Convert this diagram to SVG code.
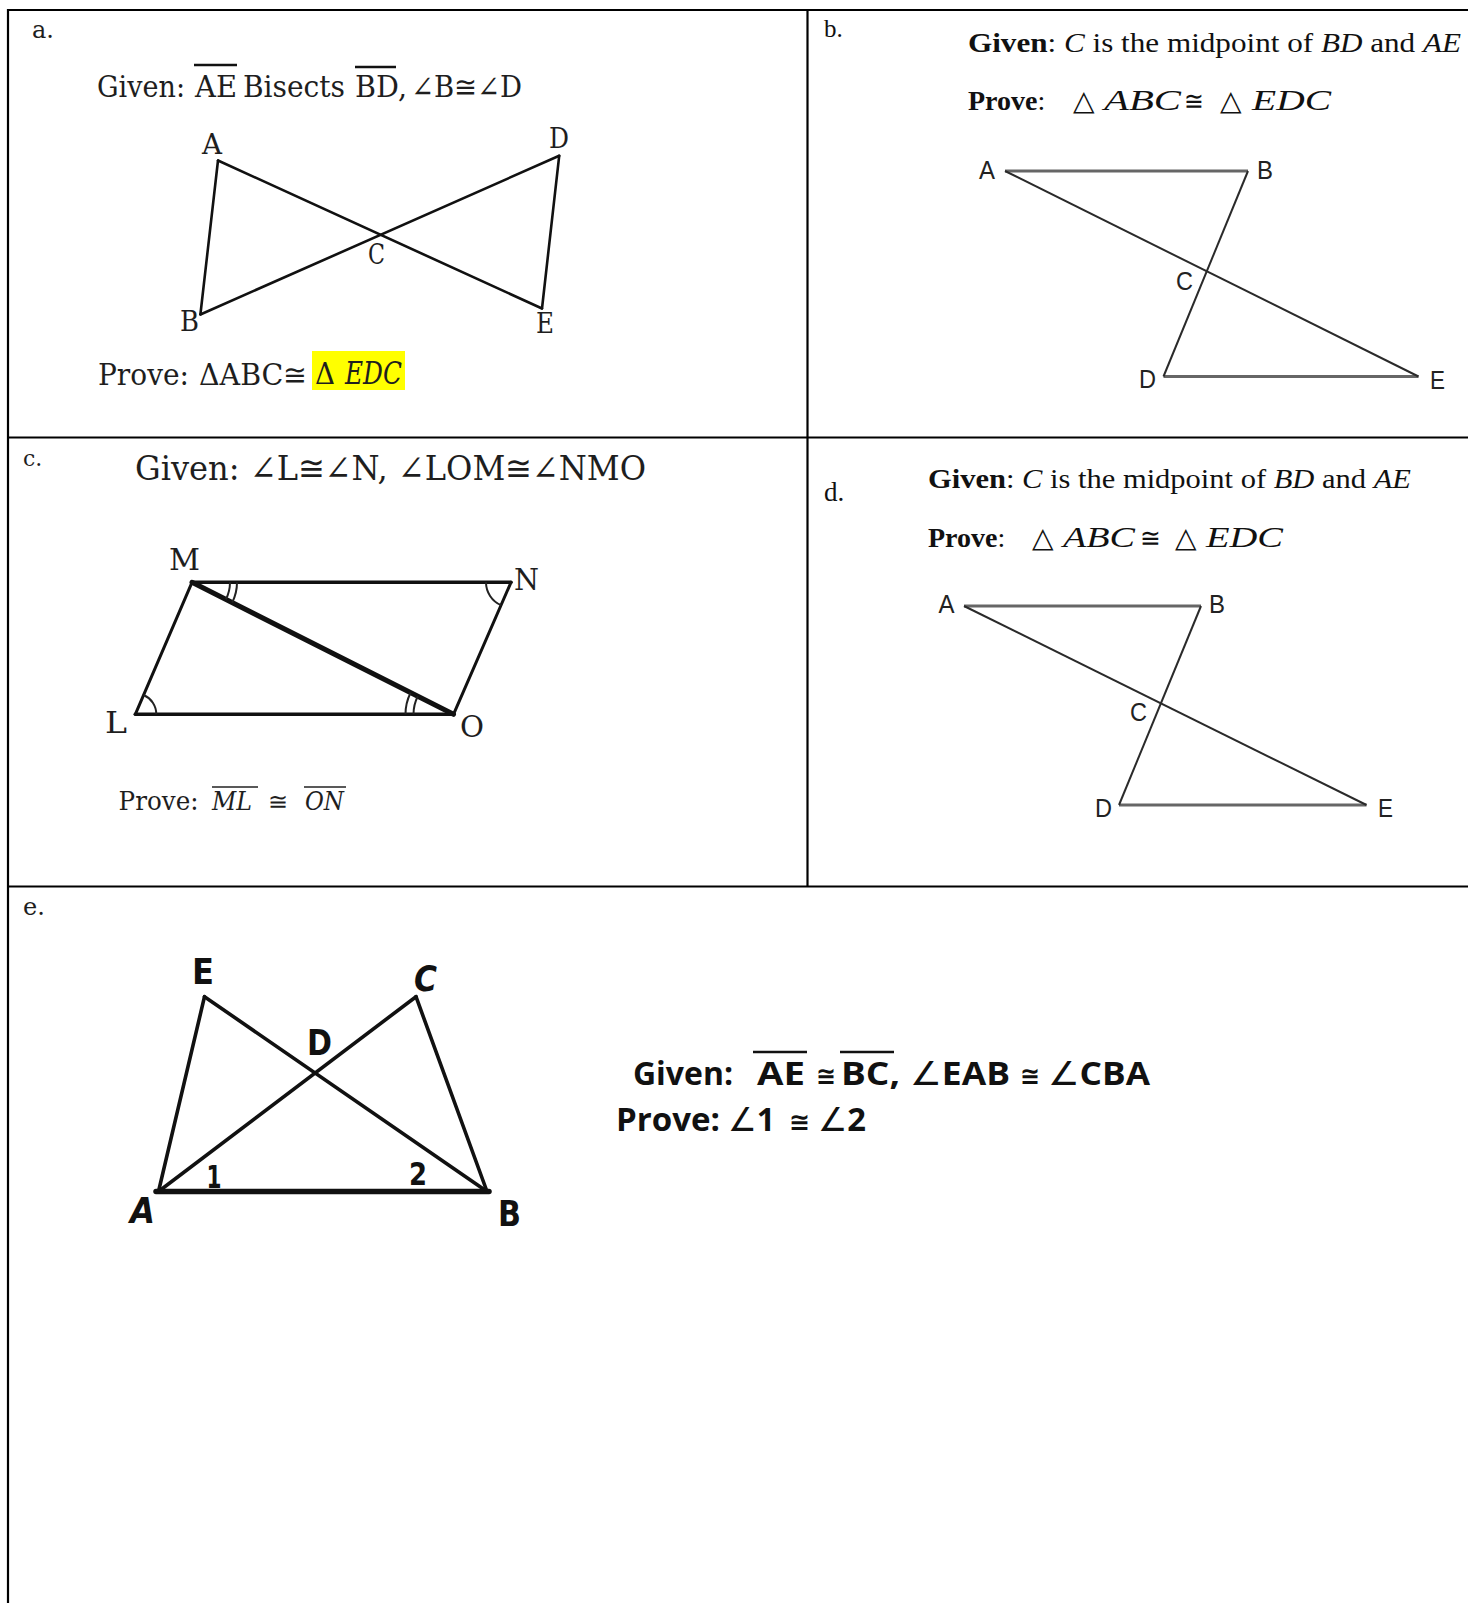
<svg xmlns="http://www.w3.org/2000/svg" width="1468" height="1603" viewBox="0 0 1468 1603">
<style>
.grid{stroke:#000;stroke-width:2.2;fill:none}
.ln{stroke:#111;stroke-linecap:round;fill:none}
.cam{font-family:"DejaVu Serif","Liberation Serif",serif;fill:#1e1e1e}
.tim{font-family:"Liberation Serif","Times New Roman",serif;fill:#111}
.ar{font-family:"Liberation Sans",Arial,sans-serif;fill:#222}
.tah{font-family:"Open Sans","DejaVu Sans",sans-serif;font-weight:700;fill:#111}
.hand{font-family:"DejaVu Sans",sans-serif;font-weight:700;fill:#111}
.ov{stroke:#111;stroke-width:2.6}
.arc{stroke:#222;stroke-width:2;fill:none}
</style>
<rect x="0" y="0" width="1468" height="1603" fill="#fff"/>
<g id="table" class="grid">
<line x1="7" y1="10" x2="1468" y2="10"/>
<line x1="8" y1="9" x2="8" y2="1603"/>
<line x1="807.5" y1="9" x2="807.5" y2="887"/>
<line x1="7" y1="437.5" x2="1468" y2="437.5"/>
<line x1="7" y1="886.5" x2="1468" y2="886.5"/>
</g>

<g id="cell-a">
<text class="cam" x="32" y="38" font-size="24">a.</text>
<text class="cam" x="97" y="97" font-size="29" textLength="88" lengthAdjust="spacingAndGlyphs">Given:</text>
<text class="cam" x="195" y="97" font-size="29" textLength="42" lengthAdjust="spacingAndGlyphs">AE</text>
<text class="cam" x="243" y="97" font-size="29" textLength="102" lengthAdjust="spacingAndGlyphs">Bisects</text>
<text class="cam" x="355" y="97" font-size="29" textLength="52" lengthAdjust="spacingAndGlyphs">BD,</text>
<text class="cam" x="411" y="97" font-size="29" textLength="111" lengthAdjust="spacingAndGlyphs">∠B≅∠D</text>
<line class="ov" x1="194" y1="65" x2="237" y2="65"/>
<line class="ov" x1="355" y1="67" x2="396" y2="67"/>
<g id="fig-a" class="ln" stroke-width="2.6">
<line x1="218" y1="160.5" x2="200.4" y2="314.5"/>
<line x1="218" y1="160.5" x2="542" y2="308.5"/>
<line x1="200.4" y1="314.5" x2="559.2" y2="155.8"/>
<line x1="559.2" y1="155.8" x2="542" y2="308.5"/>
</g>
<text class="cam" x="202" y="154" font-size="27" textLength="20" lengthAdjust="spacingAndGlyphs">A</text>
<text class="cam" x="549" y="148" font-size="27" textLength="20" lengthAdjust="spacingAndGlyphs">D</text>
<text class="cam" x="368" y="264" font-size="27" textLength="17" lengthAdjust="spacingAndGlyphs">C</text>
<text class="cam" x="180" y="331" font-size="27" textLength="19" lengthAdjust="spacingAndGlyphs">B</text>
<text class="cam" x="536" y="333" font-size="27" textLength="18" lengthAdjust="spacingAndGlyphs">E</text>
<text class="cam" x="98" y="385" font-size="29" textLength="91" lengthAdjust="spacingAndGlyphs">Prove:</text>
<text class="cam" x="199" y="385" font-size="29" textLength="108" lengthAdjust="spacingAndGlyphs">ΔABC≅</text>
<rect x="312" y="351" width="93" height="39" fill="#ffff00"/>
<text class="cam" x="315" y="384" font-size="29" fill="#000" textLength="20" lengthAdjust="spacingAndGlyphs">Δ</text>
<text class="cam" x="345" y="384" font-size="31" font-style="italic" fill="#000" textLength="57" lengthAdjust="spacingAndGlyphs">EDC</text>
</g>

<g id="cell-b">
<text class="tim" x="824" y="37" font-size="25">b.</text>
<text class="tim" x="968" y="52" font-size="28" textLength="493" lengthAdjust="spacingAndGlyphs"><tspan font-weight="700">Given</tspan>:  <tspan font-style="italic">C</tspan> is the midpoint of <tspan font-style="italic">BD</tspan> and <tspan font-style="italic">AE</tspan></text>
<text class="tim" x="968" y="110" font-size="28"><tspan font-weight="700">Prove</tspan>:</text>
<text class="tim" x="1073" y="110" font-size="28">△</text>
<text class="tim" x="1104" y="110" font-size="30" font-style="italic" textLength="77" lengthAdjust="spacingAndGlyphs">ABC</text>
<text class="tim" x="1184" y="110" font-size="26" textLength="20" lengthAdjust="spacingAndGlyphs">≅</text>
<text class="tim" x="1220" y="110" font-size="28">△</text>
<text class="tim" x="1252" y="110" font-size="30" font-style="italic" textLength="79" lengthAdjust="spacingAndGlyphs">EDC</text>
<g id="fig-b">
<line x1="1005" y1="171" x2="1248" y2="171" stroke="#666" stroke-width="3"/>
<line x1="1163.5" y1="376.5" x2="1418.5" y2="376.5" stroke="#666" stroke-width="3"/>
<line x1="1248" y1="171" x2="1163.5" y2="376.5" stroke="#2a2a2a" stroke-width="2"/>
<line x1="1005" y1="171" x2="1418.5" y2="376.5" stroke="#2a2a2a" stroke-width="2"/>
</g>
<text class="ar" x="979" y="179" font-size="25" textLength="16" lengthAdjust="spacingAndGlyphs">A</text>
<text class="ar" x="1257" y="179" font-size="25" textLength="16" lengthAdjust="spacingAndGlyphs">B</text>
<text class="ar" x="1176" y="290" font-size="25" textLength="17" lengthAdjust="spacingAndGlyphs">C</text>
<text class="ar" x="1139" y="388" font-size="25" textLength="17" lengthAdjust="spacingAndGlyphs">D</text>
<text class="ar" x="1430" y="389" font-size="25" textLength="15" lengthAdjust="spacingAndGlyphs">E</text>
</g>

<g id="cell-c">
<text class="cam" x="23" y="466" font-size="22">c.</text>
<text class="cam" x="135" y="480" font-size="34" textLength="511" lengthAdjust="spacingAndGlyphs">Given: ∠L≅∠N, ∠LOM≅∠NMO</text>
<g id="fig-c">
<line class="ln" x1="192" y1="582.3" x2="511" y2="582.3" stroke-width="3.6" stroke="#222"/>
<line class="ln" x1="135.3" y1="714.3" x2="453.5" y2="714.3" stroke-width="3.6" stroke="#222"/>
<line class="ln" x1="192" y1="582.3" x2="135.3" y2="714.3" stroke-width="3"/>
<line class="ln" x1="511" y1="582.3" x2="453.5" y2="714.3" stroke-width="3"/>
<line class="ln" x1="192" y1="582.3" x2="453.5" y2="714.3" stroke-width="5"/>
<path class="arc" d="M230,582.3 A38,38 0 0 1 225.9,599.4"/>
<path class="arc" d="M237,582.3 A45,45 0 0 1 232.2,602.6"/>
<path class="arc" d="M486,582.3 A25,25 0 0 0 501,605.2"/>
<path class="arc" d="M156.3,714.3 A21,21 0 0 0 143.6,695"/>
<path class="arc" d="M413.5,714.3 A40,40 0 0 1 417.8,696.3"/>
<path class="arc" d="M405.5,714.3 A48,48 0 0 1 410.6,692.7"/>
</g>
<text class="cam" x="169" y="570" font-size="29" textLength="31" lengthAdjust="spacingAndGlyphs">M</text>
<text class="cam" x="514" y="590" font-size="29" textLength="25" lengthAdjust="spacingAndGlyphs">N</text>
<text class="cam" x="105" y="733" font-size="29" textLength="22" lengthAdjust="spacingAndGlyphs">L</text>
<text class="cam" x="460" y="737" font-size="29" textLength="24" lengthAdjust="spacingAndGlyphs">O</text>
<text class="cam" x="118.6" y="810" font-size="26" fill="#111" textLength="80" lengthAdjust="spacingAndGlyphs">Prove:</text>
<text class="cam" x="212" y="810" font-size="26" font-style="italic" fill="#111" textLength="40" lengthAdjust="spacingAndGlyphs">ML</text>
<text class="cam" x="268" y="810" font-size="24" fill="#111" textLength="20" lengthAdjust="spacingAndGlyphs">≅</text>
<text class="cam" x="305" y="810" font-size="26" font-style="italic" fill="#111" textLength="39" lengthAdjust="spacingAndGlyphs">ON</text>
<line x1="212" y1="787" x2="258" y2="787" stroke="#222" stroke-width="1.6"/>
<line x1="304" y1="787" x2="346" y2="787" stroke="#222" stroke-width="1.6"/>
</g>

<g id="cell-d">
<text class="tim" x="824" y="501" font-size="27">d.</text>
<text class="tim" x="928" y="488" font-size="28" textLength="483" lengthAdjust="spacingAndGlyphs"><tspan font-weight="700">Given</tspan>:  <tspan font-style="italic">C</tspan> is the midpoint of <tspan font-style="italic">BD</tspan> and <tspan font-style="italic">AE</tspan></text>
<text class="tim" x="928" y="547" font-size="28"><tspan font-weight="700">Prove</tspan>:</text>
<text class="tim" x="1032" y="547" font-size="28">△</text>
<text class="tim" x="1063" y="547" font-size="30" font-style="italic" textLength="72" lengthAdjust="spacingAndGlyphs">ABC</text>
<text class="tim" x="1140" y="547" font-size="26" textLength="21" lengthAdjust="spacingAndGlyphs">≅</text>
<text class="tim" x="1175" y="547" font-size="28">△</text>
<text class="tim" x="1206" y="547" font-size="30" font-style="italic" textLength="77" lengthAdjust="spacingAndGlyphs">EDC</text>
<g id="fig-d">
<line x1="964" y1="606" x2="1201" y2="606" stroke="#666" stroke-width="3"/>
<line x1="1119" y1="805" x2="1366.5" y2="805" stroke="#666" stroke-width="3"/>
<line x1="1201" y1="606" x2="1119" y2="805" stroke="#2a2a2a" stroke-width="2"/>
<line x1="964" y1="606" x2="1366.5" y2="805" stroke="#2a2a2a" stroke-width="2"/>
</g>
<text class="ar" x="938.5" y="613" font-size="25" textLength="16" lengthAdjust="spacingAndGlyphs">A</text>
<text class="ar" x="1209" y="613" font-size="25" textLength="16" lengthAdjust="spacingAndGlyphs">B</text>
<text class="ar" x="1130" y="721" font-size="25" textLength="17" lengthAdjust="spacingAndGlyphs">C</text>
<text class="ar" x="1095" y="817" font-size="25" textLength="17" lengthAdjust="spacingAndGlyphs">D</text>
<text class="ar" x="1378" y="817" font-size="25" textLength="15" lengthAdjust="spacingAndGlyphs">E</text>
</g>

<g id="cell-e">
<text class="cam" x="23" y="915" font-size="24">e.</text>
<g id="fig-e">
<line class="ln" x1="158.5" y1="1191.5" x2="204.5" y2="996.7" stroke-width="3.6"/>
<line class="ln" x1="204.5" y1="996.7" x2="487" y2="1191.5" stroke-width="3.6"/>
<line class="ln" x1="158.5" y1="1191.5" x2="416" y2="996.7" stroke-width="3.6"/>
<line class="ln" x1="416" y1="996.7" x2="487" y2="1191.5" stroke-width="3.6"/>
<line class="ln" x1="156" y1="1191.5" x2="489" y2="1191.5" stroke-width="5.5"/>
</g>
<text class="hand" x="192" y="984" font-size="36" textLength="22" lengthAdjust="spacingAndGlyphs">E</text>
<text class="hand" x="414" y="991" font-size="36" font-style="italic" textLength="23" lengthAdjust="spacingAndGlyphs">C</text>
<text class="hand" x="307" y="1055" font-size="36" textLength="25" lengthAdjust="spacingAndGlyphs">D</text>
<text class="hand" x="206.5" y="1188" font-size="32" font-weight="400" textLength="15" lengthAdjust="spacingAndGlyphs">1</text>
<text class="hand" x="409" y="1185" font-size="32" font-weight="400" textLength="18" lengthAdjust="spacingAndGlyphs">2</text>
<text class="hand" x="130" y="1223" font-size="36" font-style="italic" textLength="25" lengthAdjust="spacingAndGlyphs">A</text>
<text class="hand" x="498" y="1226" font-size="36" textLength="23" lengthAdjust="spacingAndGlyphs">B</text>
<text class="tah" x="633" y="1085" font-size="33" textLength="100" lengthAdjust="spacingAndGlyphs">Given:</text>
<text class="tah" x="757" y="1085" font-size="33" textLength="48" lengthAdjust="spacingAndGlyphs">AE</text>
<text class="tah" x="816" y="1085" font-size="26" font-weight="400" textLength="20" lengthAdjust="spacingAndGlyphs">≅</text>
<text class="tah" x="841" y="1085" font-size="33" textLength="59" lengthAdjust="spacingAndGlyphs">BC,</text>
<text class="tah" x="910" y="1085" font-size="33" textLength="100" lengthAdjust="spacingAndGlyphs"><tspan font-weight="400">∠</tspan>EAB</text>
<text class="tah" x="1020" y="1085" font-size="26" font-weight="400" textLength="20" lengthAdjust="spacingAndGlyphs">≅</text>
<text class="tah" x="1048" y="1085" font-size="33" textLength="102" lengthAdjust="spacingAndGlyphs"><tspan font-weight="400">∠</tspan>CBA</text>
<line class="ov" x1="753" y1="1052" x2="807" y2="1052" stroke-width="3"/>
<line class="ov" x1="840" y1="1052" x2="894" y2="1052" stroke-width="3"/>
<text class="tah" x="616" y="1131" font-size="33" textLength="104" lengthAdjust="spacingAndGlyphs">Prove:</text>
<text class="tah" x="728" y="1131" font-size="33" textLength="47" lengthAdjust="spacingAndGlyphs"><tspan font-weight="400">∠</tspan>1</text>
<text class="tah" x="789" y="1131" font-size="26" font-weight="400" textLength="21" lengthAdjust="spacingAndGlyphs">≅</text>
<text class="tah" x="818" y="1131" font-size="33" textLength="48" lengthAdjust="spacingAndGlyphs"><tspan font-weight="400">∠</tspan>2</text>
</g>
</svg>
